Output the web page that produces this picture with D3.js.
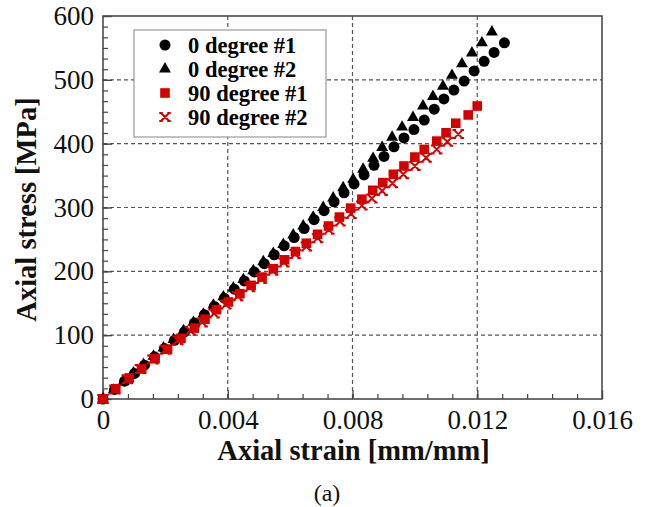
<!DOCTYPE html>
<html><head><meta charset="utf-8">
<script src="https://cdn.jsdelivr.net/npm/d3@7"></script>
<style>body{margin:0;background:#fff}svg{display:block}</style>
</head><body>
<svg id="c" width="654" height="507"></svg>
<script>
// ---- data ----
const seriesNames = ["0 degree #1", "0 degree #2", "90 degree #1", "90 degree #2"];

const strain0d1 = [0,0.00037,0.00069,0.00101,0.00133,0.00165,0.00197,0.00229,0.00261,0.00293,0.00325,0.00357,0.00389,0.00421,0.00453,0.00485,0.00517,0.00549,0.00581,0.00613,0.00645,0.00677,0.00709,0.00741,0.00773,0.00805,0.00837,0.00869,0.00901,0.00933,0.00965,0.00997,0.0103,0.01062,0.01093,0.01125,0.01158,0.0119,0.01222,0.01254,0.01287];
const stress0d1 = [0,15,28,40,53,66,79,92,105,119,132,145,158,172,185,199,212,226,240,253,267,281,295,309,323,337,351,366,380,395,409,422,437,454,470,484,498,514,529,543,558];

const strain0d2 = [0,0.00034,0.00066,0.00098,0.0013,0.00162,0.00194,0.00226,0.00258,0.0029,0.00322,0.00354,0.00386,0.00418,0.0045,0.00482,0.00514,0.00546,0.00578,0.0061,0.00642,0.00674,0.00706,0.00738,0.0077,0.00802,0.00834,0.00866,0.00895,0.00927,0.00959,0.00994,0.01026,0.01058,0.0109,0.01119,0.01151,0.01183,0.01215,0.01247];
const stress0d2 = [0,14,27,41,54,67,80,93,107,120,133,147,160,174,187,201,215,228,242,257,271,285,300,315,331,344,360,377,394,410,426,441,459,474,490,507,525,542,558,575];

const strain90d1 = [0,0.00041,0.00084,0.00124,0.00167,0.00207,0.0025,0.00293,0.00327,0.00364,0.00402,0.00439,0.00475,0.0051,0.00546,0.00582,0.00617,0.00652,0.00688,0.00723,0.00758,0.00794,0.0083,0.00865,0.00897,0.00931,0.00965,0.0100,0.0103,0.0107,0.0110,0.01131,0.01171,0.012];
const stress90d1 = [0,16,33,47,63,78,95,111,125,140,152,165,178,191,204,218,231,244,258,271,285,299,313,327,339,352,365,379,391,404,417,432,445,459];

const strain90d2 = [0,0.00038,0.00078,0.0012,0.0016,0.002,0.0024,0.0028,0.00318,0.00356,0.00394,0.00432,0.0047,0.00507,0.00544,0.0058,0.00616,0.00652,0.00688,0.00724,0.0076,0.00795,0.0083,0.00862,0.00895,0.00928,0.00963,0.0100,0.01036,0.0107,0.01104,0.01139];
const stress90d2 = [0,15,31,47,62,77,92,107,120,134,148,161,175,188,201,214,227,239,252,265,278,290,303,314,326,338,352,365,378,391,403,415];

const xTicks = [0, 0.004, 0.008, 0.012, 0.016];
const yTicks = [0, 100, 200, 300, 400, 500, 600];
const xTitle = "Axial strain [mm/mm]";
const yTitle = "Axial stress [MPa]";
const caption = "(a)";

// ---- chart ----
const RED = "#d40000";
const FONT = "'Liberation Serif','Times New Roman',serif";
const svg = d3.select("#c");
const L = 103, R = 602, T = 16, B = 399;
const x = d3.scaleLinear().domain([0, 0.016]).range([L, R]);
const y = d3.scaleLinear().domain([0, 600]).range([B, T]);

// grid
const g = svg.append("g");
g.selectAll(".gx").data(xTicks.slice(1, -1)).join("line")
  .attr("x1", d => x(d)).attr("x2", d => x(d)).attr("y1", T).attr("y2", B)
  .attr("stroke", "#555").attr("stroke-width", 1.2).attr("stroke-dasharray", "4,3");
g.selectAll(".gy").data(yTicks.slice(1, -1)).join("line")
  .attr("y1", d => y(d)).attr("y2", d => y(d)).attr("x1", L).attr("x2", R)
  .attr("stroke", "#555").attr("stroke-width", 1.2).attr("stroke-dasharray", "4,3");

// minor ticks
const xMinor = d3.range(0, 21).map(i => i * 0.0008).filter(v => v <= 0.016 + 1e-9);
const yMinor = d3.range(0, 37).map(i => i * 100 / 6);
svg.append("g").attr("transform", `translate(0,${B})`)
  .call(d3.axisBottom(x).tickValues(xMinor).tickSizeInner(-5).tickSizeOuter(0).tickFormat(""))
  .call(s => s.select(".domain").remove())
  .selectAll("line").attr("stroke", "#444").attr("stroke-width", 1.2);
svg.append("g").attr("transform", `translate(${L},0)`)
  .call(d3.axisLeft(y).tickValues(yMinor).tickSizeInner(-5).tickSizeOuter(0).tickFormat(""))
  .call(s => s.select(".domain").remove())
  .selectAll("line").attr("stroke", "#444").attr("stroke-width", 1.2);

// major axes
const ax = svg.append("g").attr("transform", `translate(0,${B})`)
  .call(d3.axisBottom(x).tickValues(xTicks).tickSizeInner(-9).tickSizeOuter(0).tickPadding(11)
    .tickFormat(d => d === 0 ? "0" : d3.format(".3f")(d)));
ax.select(".domain").remove();
ax.selectAll("line").attr("stroke", "#444").attr("stroke-width", 1.3);
ax.selectAll("text").attr("font-family", FONT).attr("font-size", 27).attr("fill", "#111");

const ay = svg.append("g").attr("transform", `translate(${L},0)`)
  .call(d3.axisLeft(y).tickValues(yTicks).tickSizeInner(-9).tickSizeOuter(0).tickPadding(9)
    .tickFormat(d3.format("d")));
ay.select(".domain").remove();
ay.selectAll("line").attr("stroke", "#444").attr("stroke-width", 1.3);
ay.selectAll("text").attr("font-family", FONT).attr("font-size", 27).attr("fill", "#111");

// frame
svg.append("rect").attr("x", L).attr("y", T).attr("width", R - L).attr("height", B - T)
  .attr("fill", "none").attr("stroke", "#4a4a4a").attr("stroke-width", 1.6);

// markers
function xPath(s) {
  const h = s / 2, f = s * 0.22;
  return `M${-h},${-h}L${h},${h}M${h},${-h}L${-h},${h}` +
    `M${-h - f},${-h}L${-h + f},${-h}M${h - f},${-h}L${h + f},${-h}` +
    `M${-h - f},${h}L${-h + f},${h}M${h - f},${h}L${h + f},${h}`;
}
const pts = (xs, ys) => xs.map((v, i) => [v, ys[i]]);
const marks = svg.append("g");
marks.selectAll(".c").data(pts(strain0d1, stress0d1)).join("circle")
  .attr("cx", d => x(d[0])).attr("cy", d => y(d[1])).attr("r", 5.5).attr("fill", "#000");
marks.selectAll(".t").data(pts(strain0d2, stress0d2)).join("path")
  .attr("transform", d => `translate(${x(d[0])},${y(d[1])})`)
  .attr("d", d3.symbol(d3.symbolTriangle, 62)()).attr("fill", "#000");
marks.selectAll(".s").data(pts(strain90d1, stress90d1)).join("rect")
  .attr("x", d => x(d[0]) - 4.8).attr("y", d => y(d[1]) - 4.8).attr("width", 9.6).attr("height", 9.6)
  .attr("fill", RED);
marks.selectAll(".x").data(pts(strain90d2, stress90d2)).join("path")
  .attr("transform", d => `translate(${x(d[0])},${y(d[1])})`)
  .attr("d", xPath(8)).attr("fill", "none").attr("stroke", RED).attr("stroke-width", 2);

// legend
const lg = svg.append("g");
lg.append("rect").attr("x", 134).attr("y", 30).attr("width", 192).attr("height", 107)
  .attr("fill", "#fff").attr("stroke", "#999").attr("stroke-width", 1.2);
const rowY = [45, 69, 93, 117];
const mx = 165;
lg.append("circle").attr("cx", mx).attr("cy", rowY[0]).attr("r", 5.5).attr("fill", "#000");
lg.append("path").attr("transform", `translate(${mx},${rowY[1]})`)
  .attr("d", d3.symbol(d3.symbolTriangle, 62)()).attr("fill", "#000");
lg.append("rect").attr("x", mx - 4.8).attr("y", rowY[2] - 4.8).attr("width", 9.6).attr("height", 9.6).attr("fill", RED);
lg.append("path").attr("transform", `translate(${mx},${rowY[3]})`)
  .attr("d", xPath(8)).attr("fill", "none").attr("stroke", RED).attr("stroke-width", 2);
lg.selectAll("text").data(seriesNames).join("text")
  .attr("x", 188).attr("y", (d, i) => rowY[i]).attr("dy", "0.35em")
  .attr("font-family", FONT).attr("font-weight", "bold").attr("font-size", 22.5).attr("fill", "#000")
  .text(d => d);

// titles
svg.append("text").attr("x", (L + R) / 2 + 1).attr("y", 460)
  .attr("text-anchor", "middle").attr("font-family", FONT).attr("font-weight", "bold")
  .attr("font-size", 28.5).attr("fill", "#111").text(xTitle);
svg.append("text").attr("transform", `translate(36,${(T + B) / 2 + 2}) rotate(-90)`)
  .attr("text-anchor", "middle").attr("font-family", FONT).attr("font-weight", "bold")
  .attr("font-size", 28.5).attr("fill", "#111").text(yTitle);
svg.append("text").attr("x", 327).attr("y", 501)
  .attr("text-anchor", "middle").attr("font-family", FONT)
  .attr("font-size", 24).attr("fill", "#111").text(caption);
</script>
</body></html>
